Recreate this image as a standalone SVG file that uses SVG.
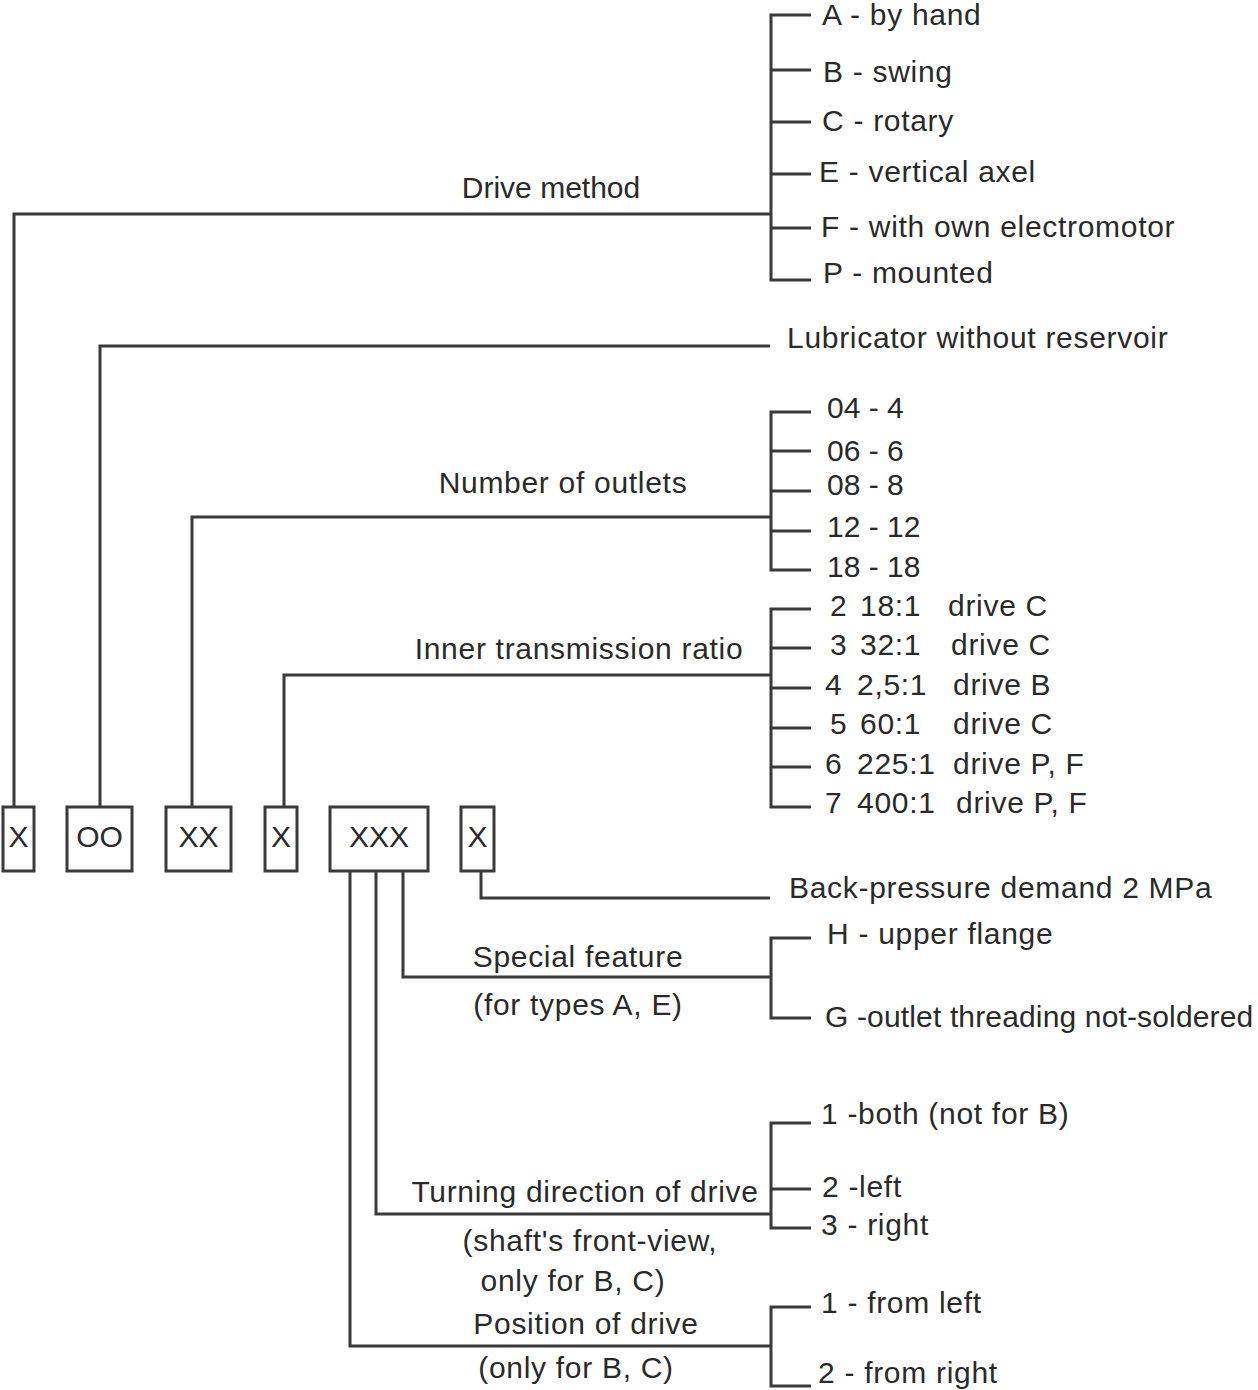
<svg xmlns="http://www.w3.org/2000/svg" width="1258" height="1390" viewBox="0 0 1258 1390">
<style>
text{font-family:"Liberation Sans",Arial,sans-serif;font-size:30px;fill:#2a2a2a;letter-spacing:0.7px}
.m{text-anchor:middle}
.n{letter-spacing:0}
.s{letter-spacing:0.15px}
.box{fill:#fff;stroke:#3a3a3a;stroke-width:3}
.ln{fill:none;stroke:#3a3a3a;stroke-width:3}
</style>
<rect width="1258" height="1390" fill="#fff"/>
<g id="connectors">
<path class="ln" d="M14 806V214H771"/>
<path class="ln" d="M811 15H771V280H811M771 70H811M771 122H811M771 174H811M771 228H811"/>
<path class="ln" d="M100 806V346H770"/>
<path class="ln" d="M192 806V517H771"/>
<path class="ln" d="M811 412H771V570H811M771 451H811M771 491H811M771 531H811"/>
<path class="ln" d="M284 806V675H771"/>
<path class="ln" d="M811 609H771V807H811M771 648H811M771 688H811M771 728H811M771 767H811"/>
<path class="ln" d="M481 872V898H770"/>
<path class="ln" d="M403 872V977H771"/>
<path class="ln" d="M811 938H771V1018H811"/>
<path class="ln" d="M376 872V1214H771"/>
<path class="ln" d="M811 1123H771V1228H811M771 1189H811"/>
<path class="ln" d="M350 872V1346H771"/>
<path class="ln" d="M811 1307H771V1386H811"/>
</g>
<g id="box1"><rect class="box" x="3" y="807" width="31" height="64"/><text class="m n" x="18.5" y="847">X</text></g>
<g id="box2"><rect class="box" x="67" y="807" width="65" height="64"/><text class="m n" x="99.5" y="847">OO</text></g>
<g id="box3"><rect class="box" x="166" y="807" width="65" height="64"/><text class="m n" x="198.5" y="847">XX</text></g>
<g id="box4"><rect class="box" x="265" y="807" width="32" height="64"/><text class="m n" x="281" y="847">X</text></g>
<g id="box5"><rect class="box" x="330" y="807" width="98" height="64"/><text class="m n" x="379" y="847">XXX</text></g>
<g id="box6"><rect class="box" x="461" y="807" width="33" height="64"/><text class="m n" x="477.5" y="847">X</text></g>
<g id="drive-method">
<text class="m n" x="551" y="198">Drive method</text>
<text x="822" y="25">A - by hand</text>
<text x="823" y="82">B - swing</text>
<text x="822" y="131">C - rotary</text>
<text x="819" y="182">E - vertical axel</text>
<text x="821" y="237">F - with own electromotor</text>
<text x="823" y="283">P - mounted</text>
</g>
<g id="lubricator"><text x="787" y="348">Lubricator without reservoir</text></g>
<g id="outlets">
<text class="m" x="563" y="493">Number of outlets</text>
<text class="n" x="827" y="418">04 - 4</text>
<text class="n" x="827" y="461">06 - 6</text>
<text class="n" x="827" y="495">08 - 8</text>
<text class="n" x="827" y="537">12 - 12</text>
<text class="n" x="827" y="577">18 - 18</text>
</g>
<g id="ratio">
<text class="m" x="579" y="659">Inner transmission ratio</text>
<text x="830" y="616">2</text><text x="860" y="616">18:1</text><text x="948" y="616">drive C</text>
<text x="830" y="655">3</text><text x="860" y="655">32:1</text><text x="951" y="655">drive C</text>
<text x="825" y="695">4</text><text x="857" y="695">2,5:1</text><text x="953" y="695">drive B</text>
<text x="830" y="734">5</text><text x="860" y="734">60:1</text><text x="953" y="734">drive C</text>
<text x="825" y="774">6</text><text x="857" y="774">225:1</text><text x="953" y="774">drive P, F</text>
<text x="825" y="813">7</text><text x="857" y="813">400:1</text><text x="956" y="813">drive P, F</text>
</g>
<g id="back-pressure"><text x="789" y="898">Back-pressure demand 2 MPa</text></g>
<g id="special">
<text class="m" x="578" y="967">Special feature</text>
<text class="m" x="578" y="1015">(for types A, E)</text>
<text x="827" y="944">H - upper flange</text>
<text class="s" x="825" y="1027">G -outlet threading not-soldered</text>
</g>
<g id="turning">
<text class="m" x="585" y="1202">Turning direction of drive</text>
<text class="m" x="590" y="1251">(shaft's front-view,</text>
<text class="m" x="573" y="1291">only for B, C)</text>
<text x="821" y="1124">1 -both (not for B)</text>
<text x="822" y="1197">2 -left</text>
<text x="821" y="1235">3 - right</text>
</g>
<g id="position">
<text class="m" x="586" y="1334">Position of drive</text>
<text class="m" x="576" y="1378">(only for B, C)</text>
<text x="821" y="1313">1 - from left</text>
<text x="818" y="1383">2 - from right</text>
</g>
</svg>
